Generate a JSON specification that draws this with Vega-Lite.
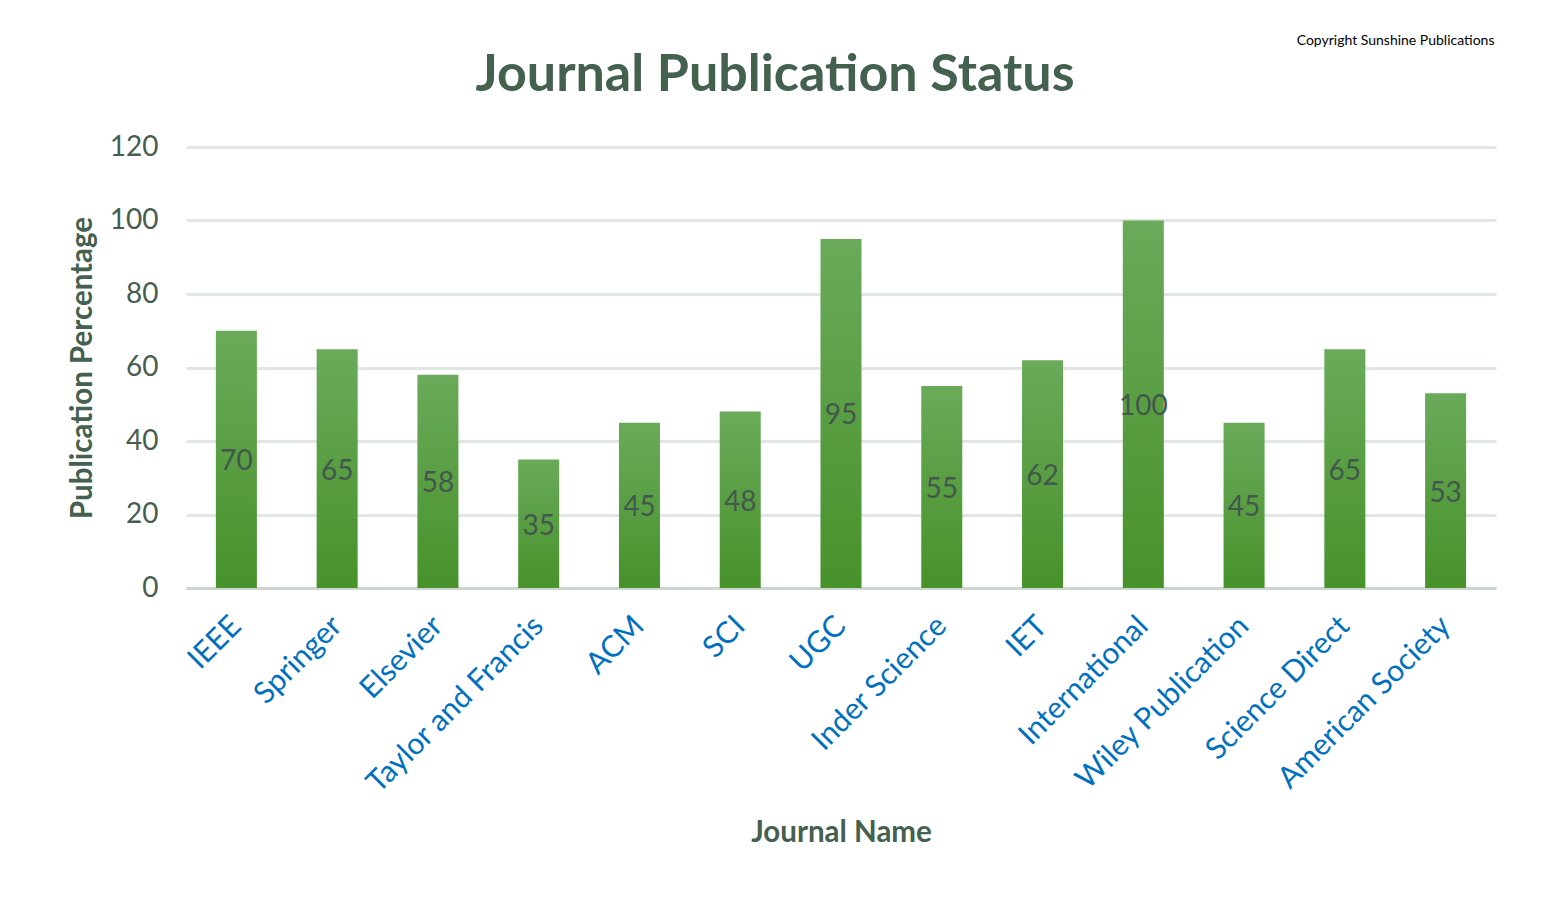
{
  "$schema": "https://vega.github.io/schema/vega-lite/v6.json",
  "width": 1310,
  "height": 441,
  "autosize": {"type": "none"},
  "padding": {"left": 186, "top": 147, "right": 59, "bottom": 313},
  "background": "white",
  "title": {
    "text": "Journal Publication Status",
    "font": "Lato",
    "fontSize": 52,
    "fontWeight": "bold",
    "color": "#44604f",
    "anchor": "middle",
    "frame": "group",
    "offset": 10,
    "dx": -66,
    "dy": 79
  },
  "config": {
    "view": {"stroke": null},
    "font": "Lato"
  },
  "data": {
    "values": [
      {"journal": "IEEE", "value": 70},
      {"journal": "Springer", "value": 65},
      {"journal": "Elsevier", "value": 58},
      {"journal": "Taylor and Francis", "value": 35},
      {"journal": "ACM", "value": 45},
      {"journal": "SCI", "value": 48},
      {"journal": "UGC", "value": 95},
      {"journal": "Inder Science", "value": 55},
      {"journal": "IET", "value": 62},
      {"journal": "International", "value": 100},
      {"journal": "Wiley Publication", "value": 45},
      {"journal": "Science Direct", "value": 65},
      {"journal": "American Society", "value": 53}
    ]
  },
  "encoding": {
    "x": {
      "field": "journal",
      "type": "nominal",
      "sort": null,
      "scale": {"paddingInner": 0.593, "paddingOuter": 0.2965}
    }
  },
  "layer": [
    {
      "mark": {
        "type": "bar",
        "color": {
          "gradient": "linear",
          "x1": 0, "y1": 0, "x2": 0, "y2": 1,
          "stops": [
            {"offset": 0, "color": "#6aaa5a"},
            {"offset": 1, "color": "#47922b"}
          ]
        }
      },
      "encoding": {
        "x": {
          "field": "journal",
          "type": "nominal",
          "sort": null,
          "axis": {
            "orient": "bottom",
            "labelAngle": -45,
            "labelAlign": "right",
            "labelBaseline": "middle",
            "labelPadding": 33,
            "labelFontSize": 30,
            "labelColor": "#0070c0",
            "labelFont": "Lato",
            "ticks": false,
            "domainColor": "#cbd6d1",
            "domainWidth": 3,
            "title": "Journal Name",
            "titleFontSize": 29.5,
            "titleFontWeight": "bold",
            "titleColor": "#44604f",
            "titleBaseline": "middle",
            "titleY": 244,
            "labelOverlap": false,
            "labelLimit": 400
          }
        },
        "y": {
          "field": "value",
          "type": "quantitative",
          "scale": {"domain": [0, 120]},
          "axis": {
            "values": [0, 20, 40, 60, 80, 100, 120],
            "domain": false,
            "ticks": false,
            "labelFontSize": 28,
            "labelColor": "#485d52",
            "labelPadding": 28,
            "gridColor": "#dfe6e3",
            "gridWidth": 3,
            "title": "Publication Percentage",
            "titleFontSize": 29.5,
            "titleFontWeight": "bold",
            "titleColor": "#44604f",
            "titlePadding": 12
          }
        }
      }
    },
    {
      "mark": {"type": "text", "fontSize": 28, "color": "#44574d", "baseline": "middle", "align": "center", "dy": 3},
      "encoding": {
        "x": {
          "field": "journal",
          "type": "nominal",
          "sort": null,
          "axis": {
            "orient": "top",
            "labels": false,
            "ticks": false,
            "domain": false,
            "grid": false,
            "title": "Copyright Sunshine Publications",
            "titleX": 1308,
            "titleAlign": "right",
            "titleFontSize": 14,
            "titleFontWeight": "normal",
            "titleColor": "#000000",
            "titleBaseline": "middle",
            "titleY": -107
          }
        },
        "y": {
          "field": "value",
          "type": "quantitative",
          "scale": {"domain": [0, 240]},
          "axis": null
        },
        "text": {"field": "value", "type": "quantitative"}
      }
    }
  ],
  "resolve": {"scale": {"y": "independent"}, "axis": {"x": "independent"}}
}
